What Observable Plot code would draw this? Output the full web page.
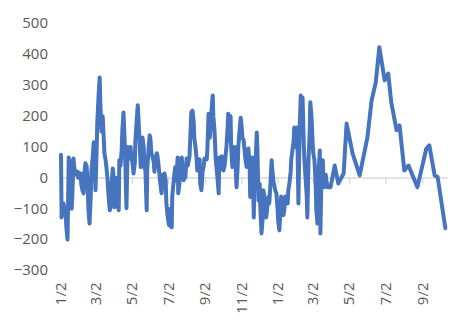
<!DOCTYPE html>
<html><head><meta charset="utf-8">
<script src="https://cdn.jsdelivr.net/npm/d3@7"></script>
<script src="https://cdn.jsdelivr.net/npm/@observablehq/plot@0.6"></script>
<style>body{margin:0;background:#fff;}</style>
</head><body><div id="chart"></div>
<script>
const startDate = "2018-01-02";
const endDate = "2019-10-14";
// days after startDate
const dayOffsets = [0,1,3,4,6,8,9,11,13,14,16,18,19,21,23,24,26,28,29,31,33,34,36,38,39,41,43,45,46,48,50,51,53,55,56,58,60,61,63,65,66,68,70,71,73,75,76,78,80,82,83,85,87,88,90,92,93,95,97,98,100,102,103,105,107,108,110,112,113,115,117,118,120,122,124,125,127,129,130,132,134,135,137,139,140,142,144,145,147,149,150,152,154,156,157,159,161,162,164,166,167,169,171,172,174,176,177,179,181,182,184,186,187,189,191,192,194,196,197,199,201,203,204,206,208,209,211,213,214,216,218,219,221,223,224,226,228,229,231,233,234,236,238,240,241,243,245,246,248,250,251,253,255,256,258,260,261,263,265,266,268,270,271,273,275,276,278,280,281,283,285,286,288,290,292,293,295,297,298,300,302,303,305,307,308,310,312,313,315,317,318,320,322,324,325,327,329,330,332,334,335,337,339,340,342,344,345,347,349,350,352,354,355,357,359,360,362,364,365,367,369,370,372,374,376,377,379,381,382,384,386,387,389,391,392,394,396,397,399,401,403,404,406,408,409,411,413,414,416,418,419,421,423,424,426,428,429,431,433,435,436,438,440,441,443,445,446,448,453,460,466,475,480,490,502,515,522,529,535,544,550,555,564,569,577,584,599,614,619,628,633,646];
const values = [75,-128,-90,-83,-100,-120,-160,-200,66,40,55,-100,-60,63,20,24,10,20,0,10,15,-20,-40,-50,10,47,40,-30,-100,-148,-60,20,60,115,80,-40,100,180,260,325,250,150,200,163,80,57,40,0,-60,-105,-100,-20,30,14,-95,-60,0,-80,-105,57,40,90,150,212,120,60,-98,100,60,80,100,70,50,14,47,120,180,235,200,120,35,90,131,100,40,20,-105,30,90,138,131,80,67,50,20,60,80,73,40,0,-20,-50,10,-20,14,-10,-80,-120,-148,-154,-100,-160,-60,-17,20,35,-10,66,-50,-20,60,66,20,-8,40,0,63,40,50,70,160,212,218,180,130,100,60,24,47,60,-20,-40,20,40,63,63,60,90,208,130,150,220,267,200,154,60,40,0,-50,66,40,70,30,24,40,60,100,160,208,120,200,100,35,70,100,60,-30,40,100,150,195,180,130,121,100,60,35,70,95,40,-62,20,66,-128,-20,50,147,100,-73,-20,-100,-180,-130,-40,-62,-100,-128,-90,-60,-83,-20,57,30,-10,-30,-40,-50,-100,-140,-170,-100,-60,-90,-120,-90,-60,-70,-83,-40,-17,20,60,90,120,163,100,140,163,-83,150,267,200,260,110,60,0,-60,-128,60,150,245,200,110,80,57,-20,-100,-148,20,89,-180,40,57,0,-30,10,-10,-30,-30,40,-18,14,176,79,8,131,251,309,423,316,338,245,154,170,24,40,-30,95,105,8,3,-163];
const xTickDates = ["2018-01-02","2018-03-02","2018-05-02","2018-07-02","2018-09-02","2018-11-02","2019-01-02","2019-03-02","2019-05-02","2019-07-02","2019-09-02"];
const yTicks = [-300,-200,-100,0,100,200,300,400,500];

const start = new Date(startDate);
const data = dayOffsets.map((d, i) => ({date: d3.utcDay.offset(start, d), value: values[i]}));
const tickDates = xTickDates.map(s => new Date(s));

const chart = Plot.plot({
  width: 469, height: 335,
  marginLeft: 60.5, marginRight: 21.75, marginTop: 23, marginBottom: 65,
  style: {fontFamily: "'Open Sans', sans-serif", fontSize: "15px", color: "#595959", background: "#fff"},
  x: {type: "utc", domain: [new Date(startDate), new Date(endDate)]},
  y: {domain: [-300, 500]},
  marks: [
    Plot.ruleY([0], {stroke: "#d9d9d9", strokeWidth: 1.5}),
    Plot.ruleX(tickDates, {x: d => d, y1: d => 0, y2: d => -20, stroke: "#d9d9d9", strokeWidth: 1.5}),
    Plot.axisY(yTicks, {tickSize: 0, tickPadding: 13, label: null, fill: "#595959"}),
    Plot.axisX(tickDates, {tickSize: 0, tickPadding: 12, tickRotate: -90, tickFormat: d3.utcFormat("%-m/%-d"), label: null, fill: "#595959"}),
    Plot.lineY(data, {x: "date", y: "value", stroke: "#4674bf", strokeWidth: 4, strokeLinejoin: "round", strokeLinecap: "round"})
  ]
});
document.getElementById("chart").appendChild(chart);
</script>
</body></html>
